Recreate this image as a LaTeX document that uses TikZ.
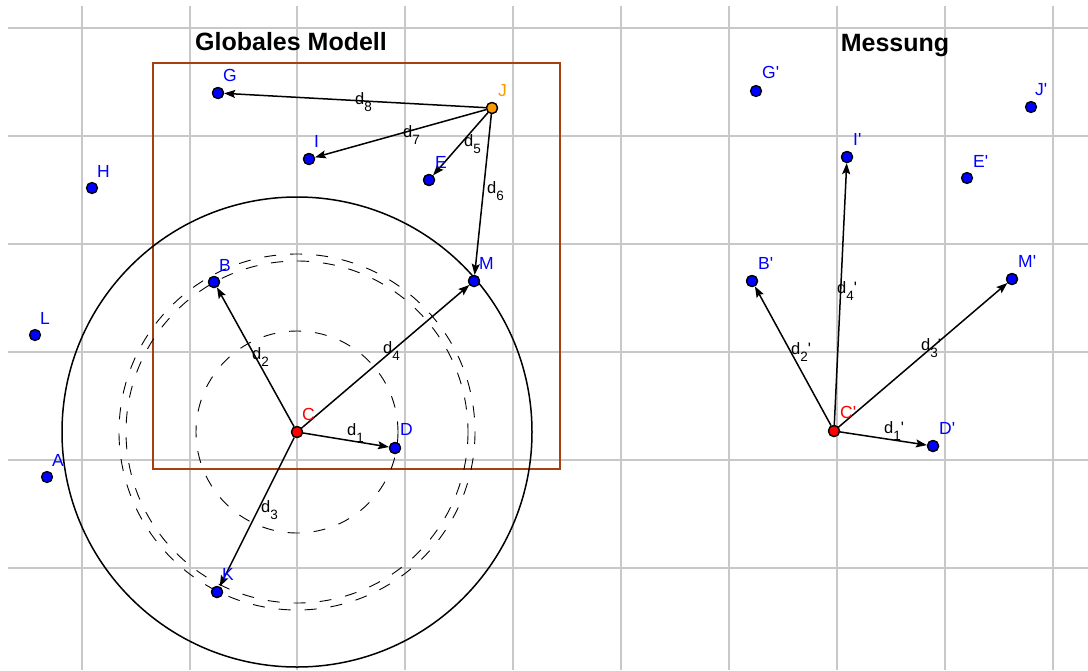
\documentclass[tikz,border=0pt]{standalone}
\usepackage{fontspec}
\setmainfont{Liberation Sans}[Ligatures=TeXOff]
\usetikzlibrary{arrows.meta}
\definecolor{gridgray}{RGB}{200,200,200}
\definecolor{ptblue}{RGB}{0,0,255}
\definecolor{ptorange}{RGB}{255,153,0}
\definecolor{ptred}{RGB}{255,0,0}
\definecolor{rectbrown}{RGB}{165,65,15}
\newcommand{\dsub}[1]{d\raisebox{-7.5pt}{\fontsize{13.5}{13.5}\selectfont #1}}
\begin{document}
\begin{tikzpicture}[x=1pt,y=-1pt,
 gridline/.style={gridgray, line width=2pt},
 pt/.style={circle, draw=black, line width=1.3pt, inner sep=0pt, minimum size=11pt, fill=ptblue},
 ptlabel/.style={anchor=base west, inner sep=0pt, text=ptblue, font=\fontsize{17.5}{17.5}\selectfont},
 dlabel/.style={anchor=base west, inner sep=0pt, font=\fontsize{16.5}{16.5}\selectfont},
 arr/.style={line width=1.5pt, -{Stealth[length=11pt,width=8pt,inset=2pt]}},
 dashcirc/.style={line width=0.9pt, dash pattern=on 12pt off 14pt},
 titletext/.style={anchor=base, inner sep=0pt, font=\fontsize{25}{25}\selectfont\bfseries}]
\fill[white] (0,0) rectangle (1088,670);
\useasboundingbox (0,0) rectangle (1088,670);
% grid
\foreach \x in {82,190,297,405,513,621,729,837,945,1053}
  \draw[gridline] (\x,6) -- (\x,670);
\foreach \y in {28,136,244,352,460,568}
  \draw[gridline] (8,\y) -- (1088,\y);
% titles
\node[titletext] (t1) at (291,50) {Globales Modell};
\node[titletext] (t2) at (895,51) {Messung};
% rectangle
\draw[rectbrown, line width=1.2pt] (153,63) rectangle (560,469);
% points (left)
\node[pt] (G) at (218,93) {};
\node[pt] (H) at (92,188) {};
\node[pt] (I) at (309,159) {};
\node[pt] (E) at (429,180) {};
\node[pt, fill=ptorange] (J) at (492,108) {};
\node[pt] (M) at (474,281) {};
\node[pt] (B) at (214,282) {};
\node[pt] (L) at (35,335) {};
\node[pt] (A) at (47,477) {};
\node[pt, fill=ptred] (C) at (297,432) {};
\node[pt] (D) at (395,448) {};
\node[pt] (K) at (217,592) {};
% circles
\draw[line width=1.5pt] (C.center) circle[radius=235];
\draw[dashcirc] (C.center) circle[radius=101];
\draw[dashcirc] (C.center) circle[radius=171];
\draw[dashcirc] (C.center) circle[radius=178];
% points (right)
\node[pt] (G') at (756,91) {};
\node[pt] (J') at (1031,107) {};
\node[pt] (I') at (847,157) {};
\node[pt] (E') at (967,178) {};
\node[pt] (B') at (752,281) {};
\node[pt] (M') at (1012,279) {};
\node[pt, fill=ptred] (C') at (834,431) {};
\node[pt] (D') at (933,446) {};
% arrows
\draw[arr] (J) -- (G);
\draw[arr] (J) -- (I);
\draw[arr] (J) -- (E);
\draw[arr] (J) -- (M);
\draw[arr] (C) -- (D);
\draw[arr] (C) -- (B);
\draw[arr] (C) -- (K);
\draw[arr] (C) -- (M);
\draw[arr] (C') -- (D');
\draw[arr] (C') -- (B');
\draw[arr] (C') -- (I');
\draw[arr] (C') -- (M');
% redraw points on top
\foreach \n/\c in {G/ptblue,I/ptblue,E/ptblue,J/ptorange,M/ptblue,B/ptblue,C/ptred,D/ptblue,K/ptblue,C'/ptred,D'/ptblue,B'/ptblue,I'/ptblue,M'/ptblue}
  \fill[\c, draw=black, line width=1.3pt] (\n.center) circle[radius=5.5];
% point labels
\node[ptlabel] (lG) at (223,81) {G};
\node[ptlabel] (lH) at (97,177) {H};
\node[ptlabel] (lI) at (314,147) {I};
\node[ptlabel] (lE) at (435,168) {E};
\node[ptlabel, text=ptorange] (lJ) at (498,96) {J};
\node[ptlabel] (lM) at (479,269) {M};
\node[ptlabel] (lB) at (219,271) {B};
\node[ptlabel] (lL) at (40,324) {L};
\node[ptlabel] (lA) at (52,466) {A};
\node[ptlabel, text=ptred] (lC) at (302,420) {C};
\node[ptlabel] (lD) at (400,435) {D};
\node[ptlabel] (lK) at (222,580) {K};
\node[ptlabel] (lG') at (762,78) {G'};
\node[ptlabel] (lJ') at (1035,95) {J'};
\node[ptlabel] (lI') at (853,145) {I'};
\node[ptlabel] (lE') at (973,167) {E'};
\node[ptlabel] (lB') at (758,269) {B'};
\node[ptlabel] (lM') at (1018,267) {M'};
\node[ptlabel, text=ptred] (lC') at (840,418) {C'};
\node[ptlabel] (lD') at (939,434) {D'};
% distance labels
\node[dlabel] (d8) at (355,104) {\dsub{8}};
\node[dlabel] (d7) at (403,137) {\dsub{7}};
\node[dlabel] (d5) at (464,146) {\dsub{5}};
\node[dlabel] (d6) at (487,193) {\dsub{6}};
\node[dlabel] (d4) at (383,353) {\dsub{4}};
\node[dlabel] (d2) at (252,359) {\dsub{2}};
\node[dlabel] (d1) at (347,435) {\dsub{1}};
\node[dlabel] (d3) at (261,512) {\dsub{3}};
\node[dlabel] (d1p) at (884,433) {\dsub{1}'};
\node[dlabel] (d2p) at (791,354) {\dsub{2}'};
\node[dlabel] (d4p) at (837,293) {\dsub{4}'};
\node[dlabel] (d3p) at (921,350) {\dsub{3}'};
\end{tikzpicture}
\end{document}
